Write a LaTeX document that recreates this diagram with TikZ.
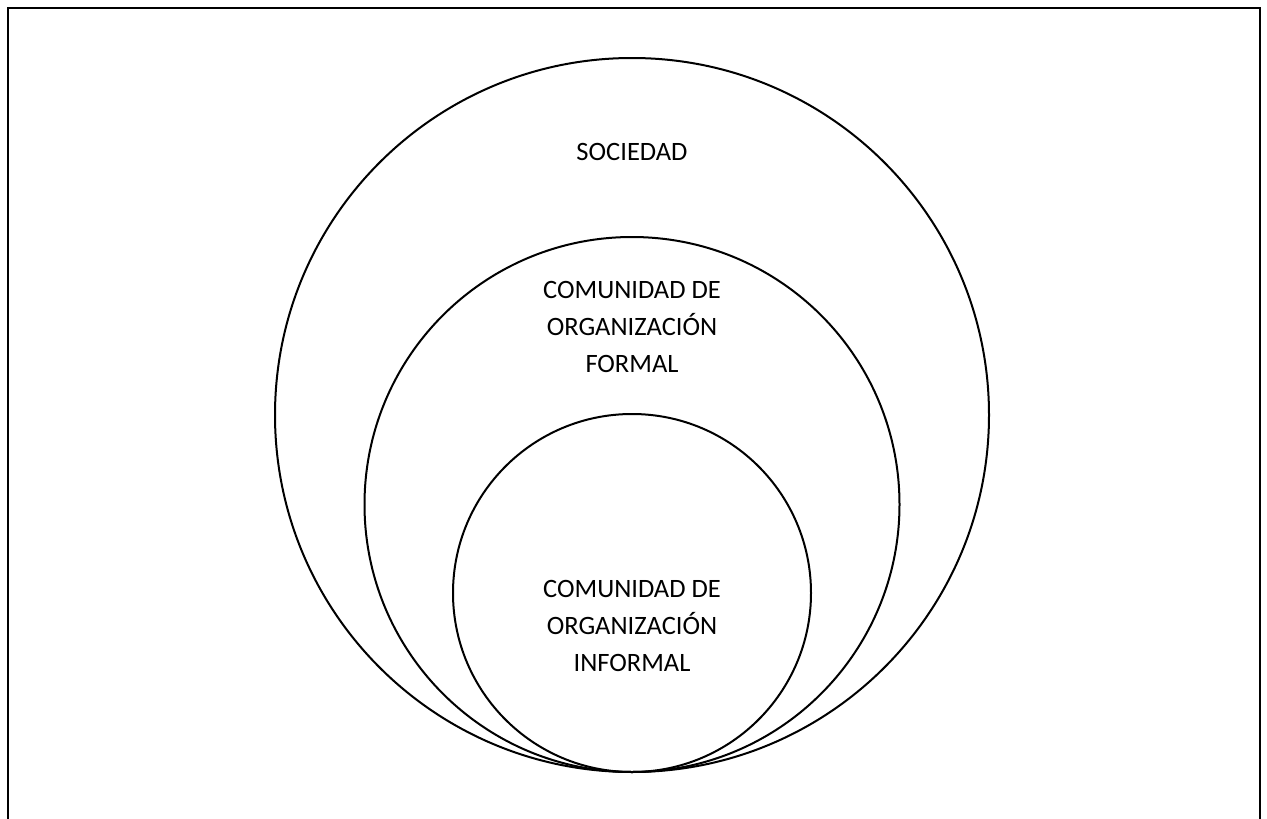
\documentclass[tikz,border=0pt]{standalone}
\usepackage{fontspec}
\setmainfont{Carlito}
\begin{document}
\begin{tikzpicture}[x=1pt,y=-1pt,
  ring/.style={circle,draw,line width=2pt,inner sep=0pt},
  lbl/.style={align=center,font=\fontsize{26.5}{37}\selectfont,inner sep=0pt}]
\useasboundingbox (0,0) rectangle (1267,819);
\coordinate (bl) at (8,822);
\coordinate (tl) at (8,8);
\coordinate (tr) at (1260,8);
\coordinate (br) at (1260,822);
\draw[line width=2pt] (bl) -- (tl) -- (tr) -- (br);
\node[ring,minimum size=714pt] (soc) at (632,415) {};
\node[ring,minimum size=535pt] (form) at (632,504.5) {};
\node[ring,minimum size=358pt] (inf) at (632,593) {};
\node[lbl] (tsoc) at (632,152) {SOCIEDAD};
\node[lbl] (tform) at (632,327) {COMUNIDAD DE\\ORGANIZACIÓN\\FORMAL};
\node[lbl] (tinf) at (632,626) {COMUNIDAD DE\\ORGANIZACIÓN\\INFORMAL};
\end{tikzpicture}
\end{document}
